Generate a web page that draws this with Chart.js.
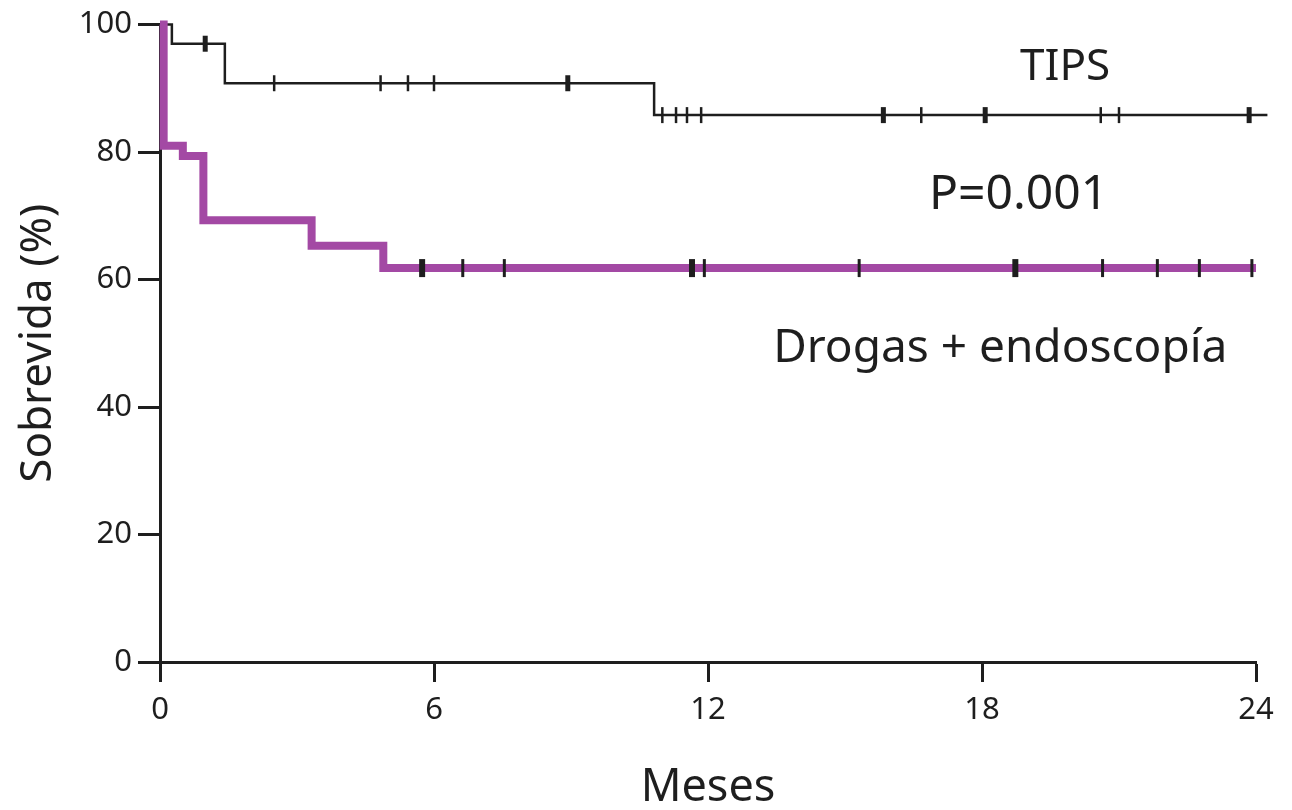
<!DOCTYPE html>
<html>
<head>
<meta charset="utf-8">
<script src="https://cdn.jsdelivr.net/npm/chart.js@4/dist/chart.umd.min.js"></script>
<style>
  body { margin: 0; background: #fff; }
  #wrap { width: 1292px; height: 810px; position: relative; }
</style>
</head>
<body>
<div id="wrap"><canvas id="kmChart"></canvas></div>
<script>
// Kaplan-Meier steps (meses, % sobrevida)
const tipsTimes = [0, 0.26, 1.42, 10.82, 24.25];
const tipsSurv = [100, 97.0, 90.8, 85.8, 85.8];
const drogasTimes = [0, 0.08, 0.5, 0.95, 3.32, 4.89, 24.0];
const drogasSurv = [100, 81.0, 79.4, 69.3, 65.3, 61.8, 61.8];

// censored patients (time, how many at that time)
const tipsCensor = [0.99, 2.5, 4.83, 5.43, 6.0, 8.93, 11.0, 11.3, 11.54, 11.85, 15.84, 16.67, 18.07, 20.6, 21.0, 23.85];
const tipsCensorCount = [2, 1, 1, 1, 1, 2, 1, 1, 1, 1, 2, 1, 2, 1, 1, 2];
const drogasCensor = [5.74, 6.63, 7.54, 11.65, 11.92, 15.31, 18.73, 20.64, 21.84, 22.76, 23.91];
const drogasCensorCount = [2, 1, 1, 2, 1, 1, 2, 1, 1, 1, 1];

const xTicks = [0, 6, 12, 18, 24];
const yTicks = [0, 20, 40, 60, 80, 100];

const purple = '#a349a4';
const ink = '#1e1e1e';
const font = '"Noto Sans", "Open Sans", sans-serif';

function survivalAt(times, surv, t) {
    let s = surv[0];
    for (let i = 0; i < times.length; i++) {
        if (times[i] <= t) s = surv[i];
    }
    return s;
}

const tipsLine = tipsTimes.map((t, i) => ({ x: t, y: tipsSurv[i] }));
const drogasLine = drogasTimes.map((t, i) => ({ x: t, y: drogasSurv[i] }));
const tipsMarks = tipsCensor.map(t => ({ x: t, y: survivalAt(tipsTimes, tipsSurv, t) }));
const drogasMarks = drogasCensor.map(t => ({ x: t, y: survivalAt(drogasTimes, drogasSurv, t) }));

// labels written inside the plot
const notes = [
    { text: 'TIPS', x: 19.82, y: 91.3, size: 44 },
    { text: 'P=0.001', x: 18.8, y: 71.1, size: 48 },
    { text: 'Drogas + endoscopía', x: 18.4, y: 47.0, size: 46 }
];

const notesPlugin = {
    id: 'notes',
    afterDatasetsDraw(chart) {
        const ctx = chart.ctx;
        const xs = chart.scales.x, ys = chart.scales.y;
        ctx.save();
        ctx.fillStyle = ink;
        ctx.textAlign = 'center';
        ctx.textBaseline = 'alphabetic';
        notes.forEach(n => {
            ctx.font = n.size + 'px ' + font;
            ctx.fillText(n.text, xs.getPixelForValue(n.x), ys.getPixelForValue(n.y));
        });
        ctx.restore();
    }
};

new Chart(document.getElementById('kmChart'), {
    type: 'line',
    data: {
        datasets: [
            {
                label: 'Censura TIPS',
                data: tipsMarks,
                showLine: false,
                pointStyle: 'line',
                rotation: 90,
                pointRadius: 8,
                pointBorderColor: ink,
                pointBorderWidth: ctx => tipsCensorCount[ctx.dataIndex] > 1 ? 5 : 2.5,
                clip: false,
                order: 0
            },
            {
                label: 'Censura Drogas',
                data: drogasMarks,
                showLine: false,
                pointStyle: 'line',
                rotation: 90,
                pointRadius: 9,
                pointBorderColor: ink,
                pointBorderWidth: ctx => drogasCensorCount[ctx.dataIndex] > 1 ? 6 : 3,
                clip: false,
                order: 0
            },
            {
                label: 'Drogas + endoscopía',
                data: drogasLine,
                stepped: true,
                borderColor: purple,
                borderWidth: 8,
                pointRadius: 0,
                fill: false,
                clip: false,
                order: 1
            },
            {
                label: 'TIPS',
                data: tipsLine,
                stepped: true,
                borderColor: ink,
                borderWidth: 2.5,
                pointRadius: 0,
                fill: false,
                clip: false,
                order: 2
            }
        ]
    },
    options: {
        responsive: true,
        maintainAspectRatio: false,
        animation: false,
        events: [],
        layout: { padding: { top: 20, right: 36, left: 0, bottom: 0 } },
        plugins: {
            legend: { display: false },
            tooltip: { enabled: false }
        },
        scales: {
            x: {
                type: 'linear',
                min: 0,
                max: 24,
                afterFit: s => { s.height = 148; },
                afterBuildTicks: s => { s.ticks = xTicks.map(v => ({ value: v })); },
                grid: { drawOnChartArea: false, drawTicks: true, tickLength: 20, tickWidth: 3, tickColor: ink },
                border: { display: true, color: ink, width: 3 },
                ticks: { color: ink, font: { family: font, size: 31 }, padding: 10, maxRotation: 0 },
                title: { display: true, text: 'Meses', color: ink, font: { family: font, size: 45 }, padding: { top: 0, bottom: -5 } }
            },
            y: {
                min: 0,
                max: 100,
                afterFit: s => { s.width = 160; },
                afterBuildTicks: s => { s.ticks = yTicks.map(v => ({ value: v })); },
                grid: { drawOnChartArea: false, drawTicks: true, tickLength: 22, tickWidth: 3, tickColor: ink },
                border: { display: true, color: ink, width: 3 },
                ticks: { color: ink, font: { family: font, size: 31 }, padding: 6 },
                title: { display: true, text: 'Sobrevida (%)', color: ink, font: { family: font, size: 44 }, padding: { top: 12, bottom: 0 } }
            }
        }
    },
    plugins: [notesPlugin]
});
</script>
</body>
</html>
